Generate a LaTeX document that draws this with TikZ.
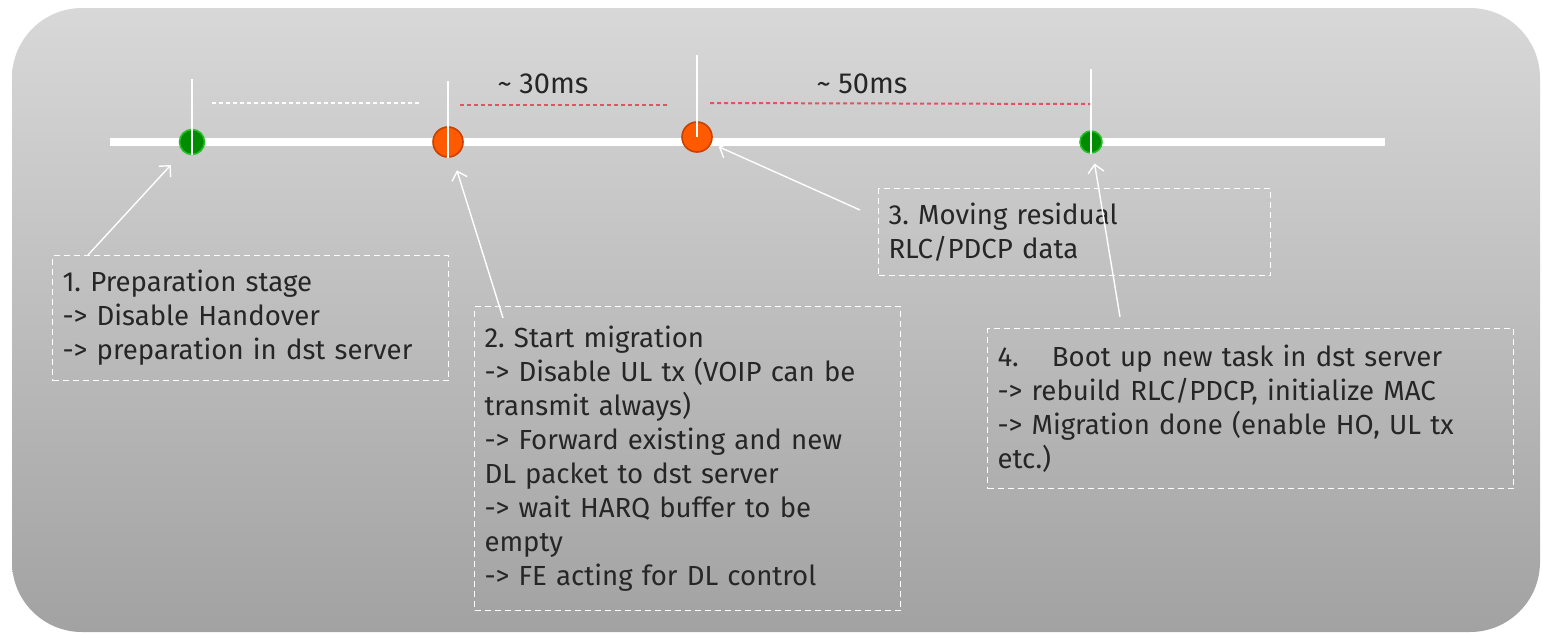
\documentclass[tikz,border=0pt]{standalone}
\usepackage{fontspec}
\setmainfont{Fira Sans}
\frenchspacing
\usetikzlibrary{positioning,arrows.meta}
\definecolor{bgtop}{RGB}{216,216,216}
\definecolor{bgbot}{RGB}{162,162,162}
\definecolor{vert}{RGB}{0,140,0}
\definecolor{vertclair}{RGB}{40,190,40}
\definecolor{orng}{RGB}{255,90,0}
\definecolor{orngfonce}{RGB}{200,65,0}
\definecolor{rouge}{RGB}{228,80,100}
\definecolor{txt}{RGB}{38,38,38}
\tikzset{
    gdot/.style={
    circle,draw=vertclair,fill=vert,line width=0.8pt,inner sep=0pt,minimum size=12.5pt
    },
    odot/.style={
    circle,draw=orngfonce,fill=orng,line width=0.8pt,inner sep=0pt,minimum size=15pt
    },
    stage/.style={rectangle,draw=white,line width=0.5pt,dash pattern=on 3pt off 2pt,text=txt,align=left,anchor=north west,inner sep=5pt,font=\fontsize{13.8}{17}\selectfont},
  tickline/.style={draw=white,line width=0.6pt},
  pointer/.style={draw=white,line width=0.7pt,-{Straight Barb[length=4pt,width=8pt]}},
  gapline/.style={draw=rouge,line width=1pt,dash pattern=on 2pt off 1.5pt},
  lbl/.style={text=txt,font=\fontsize{14.5}{16}\selectfont}
}
\begin{document}
\begin{tikzpicture}[x=0.5pt,y=-0.5pt]
    \useasboundingbox (0,0) rectangle (1542,634);
    \shade[top color=bgtop,bottom color=bgbot,rounded corners=35pt] (12,8) rectangle (1540,632);

    \draw[white,line width=4pt] (110,142) -- (1385,142);

    \node[gdot] (dotA) at (192,142) {};
    \node[odot] (dotB) at (448,142) {};
    \node[odot] (dotC) at (697,137) {};
    \node[gdot,minimum size=11pt] (dotD) at (1091,142) {};

    \draw[tickline] (dotA.south) -- ++(0,-76);
    \draw[tickline] (dotB.south) -- ++(0,-77);
    \draw[tickline] (dotC.center) -- ++(0,-82);
    \draw[tickline] (dotD.south) -- ++(0,-85);

    \draw[white,line width=1pt,dash pattern=on 2pt off 1.5pt] (212,103) -- (420,103);
    \draw[gapline] (460,105) -- (668,105);
    \draw[gapline] (710,103) -- (1090,104);

    \node[lbl] (msA) at (543,84) {\textasciitilde{} 30ms};
    \node[lbl] (msB) at (862,84) {\textasciitilde{} 50ms};

    \node[stage,text width=188pt,minimum height=62.5pt] (stA) at (52,255) {1. Preparation stage\\-> Disable Handover\\-> preparation in dst server};
    \node[stage,text width=203pt,minimum height=152pt] (stB) at (474,306) {2. Start migration\\-> Disable UL tx (VOIP can be\\transmit always)\\-> Forward existing and new\\DL packet to dst server\\-> wait HARQ buffer to be\\empty\\-> FE acting for DL control};
    \node[stage,text width=186pt,minimum height=43.5pt] (stC) at (878,188) {3. Moving residual\\RLC/PDCP data};
    \node[stage,text width=253pt,minimum height=80pt] (stD) at (987,328) {4.\hspace{1.2em}Boot up new task in dst server\\-> rebuild RLC/PDCP, initialize MAC\\-> Migration done (enable HO, UL tx\\etc.)};

    \draw[pointer,shorten >=9pt] ([xshift=18pt]stA.north west) -- (dotA);
    \draw[pointer,shorten >=7pt] ([shift={(14.5pt,-6pt)}]stB.north west) -- (dotB);
    \draw[pointer,shorten >=4pt] ([shift={(-9pt,-11pt)}]stC.north west) -- (dotC);
    \draw[pointer,shorten >=5pt] ([shift={(66.5pt,5.5pt)}]stD.north west) -- (dotD);
\end{tikzpicture}
\end{document}
